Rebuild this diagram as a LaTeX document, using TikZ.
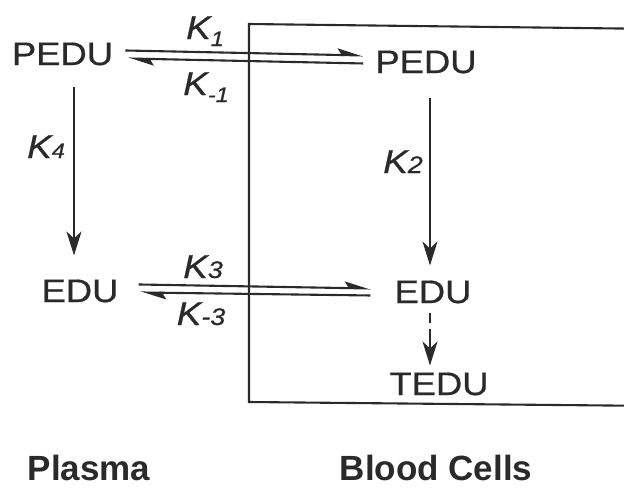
\documentclass[tikz,border=0pt]{standalone}
\usepackage{fontspec}
\setmainfont{Liberation Sans}
\newfontfamily\widesans[FakeStretch=1.12,FakeBold=0.6]{Liberation Sans}
\usetikzlibrary{arrows.meta}
\definecolor{ink}{HTML}{2A2A2A}
\tikzset{
  lbl/.style={inner sep=0pt, anchor=base, text=ink, font=\widesans\fontsize{32.5}{36}\selectfont},
  klbl/.style={inner sep=0pt, anchor=base, text=ink, font=\widesans\fontsize{33}{36}\selectfont\itshape},
  complbl/.style={inner sep=0pt, anchor=base, text=ink, font=\fontsize{35}{40}\selectfont\bfseries},
  ln/.style={draw=ink, line width=2.1pt},
  arr/.style={ln, -{Stealth[length=24pt,width=15pt,inset=7pt]}},
  harp/.style={ln, -{Stealth[harpoon,length=22pt,width=13pt,inset=4pt]}}
}
\newcommand{\ksub}[1]{{\fontsize{21}{22}\selectfont\raisebox{-7pt}{#1}}}
\newcommand{\kdig}[1]{{\fontsize{24}{24}\selectfont #1}}
\newcommand{\kdigs}[1]{{\fontsize{21}{22}\selectfont #1}}
\begin{document}
\begin{tikzpicture}[x=1pt,y=-1pt]
\useasboundingbox (0,0) rectangle (624,488);
\clip (0,0) rectangle (624,488);
% box (blood cells compartment)
\draw[ln] (660,29) -- (249,24) -- (249,402) -- (660,406);
% species
\node[lbl] (pL) at (62.5,65) {PEDU};
\node[lbl] (pR) at (426,73) {PEDU};
\node[lbl] (eL) at (80,302) {EDU};
\node[lbl] (eR) at (433,303) {EDU};
\node[lbl] (tR) at (439,395) {TEDU};
% rate constants
\node[klbl] (k1) at (205,39) {K\ksub{1}};
\node[klbl] (km1) at (206,95) {K\ksub{-1}};
\node[klbl] (k3) at (203,278) {K\kdig{3}};
\node[klbl] (km3) at (201,325) {K\kdig{-3}};
\node[klbl] (k4) at (46,158) {K\kdigs{4}};
\node[klbl] (k2) at (403,173) {K\kdig{2}};
% compartments
\node[complbl] (plasma) at (89,480) {Plasma};
\node[complbl] (blood) at (436,480) {Blood Cells};
% exchange PEDU
\draw[harp] ([xshift=12pt,yshift=3.5pt]pL.east) -- ([xshift=-12pt,yshift=6.5pt]pR.west);
\draw[harp] ([xshift=-12pt,yshift=-1.5pt]pR.west) -- ([xshift=15pt,yshift=-4.5pt]pL.east);
% exchange EDU
\draw[harp] ([xshift=20pt,yshift=6.5pt]eL.east) -- ([xshift=-24pt,yshift=3.5pt]eR.west);
\draw[harp] ([xshift=-24pt,yshift=-3.5pt]eR.west) -- ([xshift=22pt,yshift=-1.5pt]eL.east);
% conversions
\draw[arr] ([xshift=11.5pt,yshift=-21pt]pL.south) -- ([xshift=-6pt,yshift=24pt]eL.north);
\draw[arr] ([xshift=4pt,yshift=-24pt]pR.south) -- ([xshift=-3pt,yshift=15pt]eR.north);
\draw[arr, dash pattern=on 10pt off 6pt on 60pt] ([xshift=-3pt,yshift=-9pt]eR.south) -- ([xshift=-9pt,yshift=7pt]tR.north);
\end{tikzpicture}
\end{document}
